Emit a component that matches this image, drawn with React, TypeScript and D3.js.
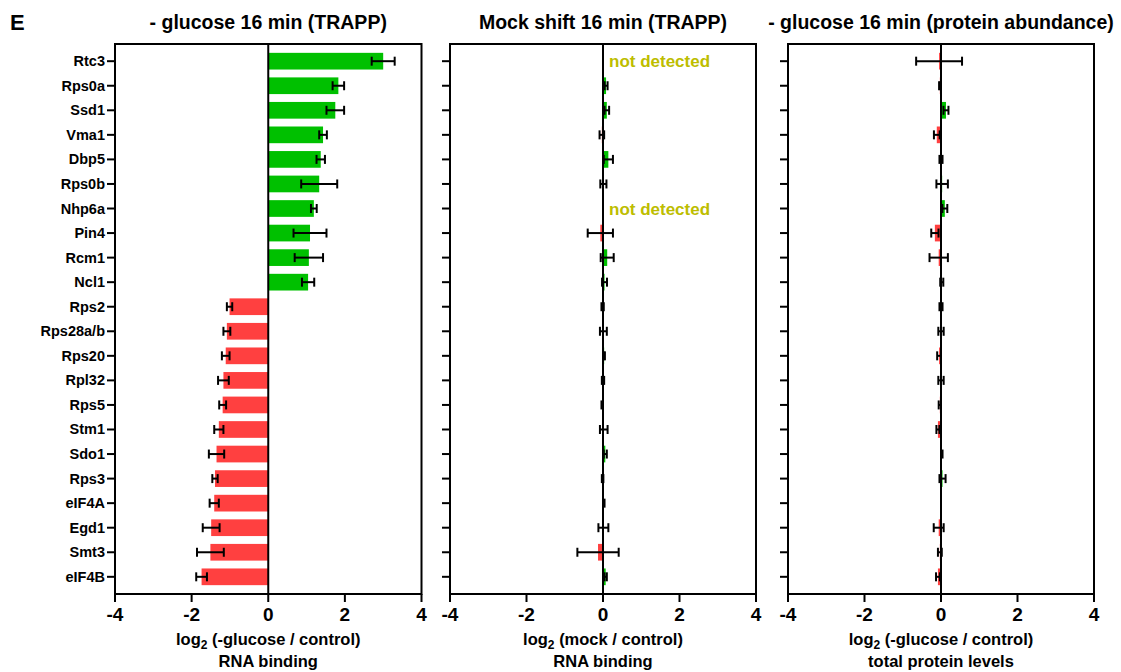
import * as d3 from 'd3';

// genes, top to bottom
const genes = ['Rtc3', 'Rps0a', 'Ssd1', 'Vma1', 'Dbp5', 'Rps0b', 'Nhp6a', 'Pin4', 'Rcm1', 'Ncl1', 'Rps2', 'Rps28a/b', 'Rps20', 'Rpl32', 'Rps5', 'Stm1', 'Sdo1', 'Rps3', 'eIF4A', 'Egd1', 'Smt3', 'eIF4B'];

// - glucose 16 min (TRAPP)
const glucoseTrapp = [3.0, 1.83, 1.75, 1.43, 1.37, 1.33, 1.19, 1.09, 1.06, 1.04, -1.01, -1.08, -1.11, -1.17, -1.19, -1.29, -1.35, -1.39, -1.41, -1.49, -1.51, -1.74];
const glucoseTrappErr = [0.3, 0.15, 0.23, 0.1, 0.11, 0.47, 0.075, 0.43, 0.37, 0.16, 0.07, 0.09, 0.1, 0.14, 0.09, 0.12, 0.2, 0.07, 0.12, 0.22, 0.35, 0.14];

// Mock shift 16 min (TRAPP), null = not detected
const mockTrapp = [null, 0.08, 0.1, -0.03, 0.14, 0.01, null, -0.07, 0.11, 0.04, -0.01, 0.01, 0.03, 0.0, -0.02, 0.02, 0.06, -0.01, 0.02, 0.01, -0.13, 0.07];
const mockTrappErr = [null, 0.04, 0.06, 0.06, 0.12, 0.08, null, 0.33, 0.17, 0.065, 0.03, 0.09, 0.02, 0.03, 0.02, 0.1, 0.04, 0.02, 0.02, 0.13, 0.54, 0.03];

// - glucose 16 min (protein abundance)
const protein = [-0.05, -0.03, 0.13, -0.11, 0.0, 0.03, 0.1, -0.16, -0.06, 0.02, 0.0, 0.0, -0.05, 0.0, -0.03, -0.08, 0.02, 0.04, 0.0, -0.06, -0.03, -0.08];
const proteinErr = [0.6, 0.02, 0.065, 0.075, 0.04, 0.15, 0.065, 0.095, 0.24, 0.04, 0.04, 0.07, 0.05, 0.07, 0.03, 0.04, 0.02, 0.08, 0.0, 0.13, 0.05, 0.05];

const xTicks = [-4, -2, 0, 2, 4];

const panels = [
  { title: '- glucose 16 min (TRAPP)', values: glucoseTrapp, errs: glucoseTrappErr, axis1: '(-glucose / control)', axis2: 'RNA binding', x0: 115, x1: 421.5, labels: true },
  { title: 'Mock shift 16 min (TRAPP)', values: mockTrapp, errs: mockTrappErr, axis1: '(mock / control)', axis2: 'RNA binding', x0: 450, x1: 756, labels: false },
  { title: '- glucose 16 min (protein abundance)', values: protein, errs: proteinErr, axis1: '(-glucose / control)', axis2: 'total protein levels', x0: 788, x1: 1094, labels: false },
];

const GREEN = '#00c000';
const RED = '#ff4040';
const FONT = '"Liberation Sans", Arial, sans-serif';

const top = 44;
const bottom = 594;

const y = d3.scalePoint<string>().domain(genes).range([top, bottom]).padding(0.7);
const barH = y.step() * 0.68;

function Panel({ p }: { p: typeof panels[number] }) {
  const x = d3.scaleLinear().domain([-4, 4]).range([p.x0, p.x1]);
  const cx = (p.x0 + p.x1) / 2;
  return (
    <g>
      <text x={cx} y={29} textAnchor="middle" fontSize={19.5} fontWeight="bold">{p.title}</text>
      {/* bars */}
      {genes.map((g, i) => {
        const v = p.values[i];
        if (v == null) return null;
        const yc = y(g)!;
        return (
          <rect key={g} x={Math.min(x(0), x(v))} y={yc - barH / 2} width={Math.abs(x(v) - x(0))} height={barH}
            fill={v >= 0 ? GREEN : RED} />
        );
      })}
      {/* error bars */}
      {genes.map((g, i) => {
        const v = p.values[i];
        const e = p.errs[i];
        if (v == null || e == null) return null;
        const yc = y(g)!;
        const a = x(v - e), b = x(v + e);
        return (
          <g key={g} stroke="black" strokeWidth={2}>
            <line x1={a} x2={b} y1={yc} y2={yc} />
            <line x1={a} x2={a} y1={yc - 4.5} y2={yc + 4.5} />
            <line x1={b} x2={b} y1={yc - 4.5} y2={yc + 4.5} />
          </g>
        );
      })}
      {genes.map((g, i) => p.values[i] == null ? (
        <text key={g} x={x(0) + 6} y={y(g)! + 6} fontSize={17} fontWeight="bold" fill="#bdbd00">not detected</text>
      ) : null)}
      {/* frame + zero line */}
      <rect x={p.x0} y={top} width={p.x1 - p.x0} height={bottom - top} fill="none" stroke="black" strokeWidth={2} />
      <line x1={x(0)} x2={x(0)} y1={top} y2={bottom} stroke="black" strokeWidth={2} />
      {/* y ticks */}
      {genes.map(g => (
        <g key={g}>
          <line x1={p.x0 - 8} x2={p.x0} y1={y(g)} y2={y(g)} stroke="black" strokeWidth={2} />
          {p.labels && (
            <text x={p.x0 - 10} y={y(g)! + 5} textAnchor="end" fontSize={14.5} fontWeight="bold">{g}</text>
          )}
        </g>
      ))}
      {/* x axis */}
      {xTicks.map(t => (
        <g key={t}>
          <line x1={x(t)} x2={x(t)} y1={bottom} y2={bottom + 8} stroke="black" strokeWidth={2} />
          <text x={x(t)} y={bottom + 27} textAnchor="middle" fontSize={19} fontWeight="bold">{t}</text>
        </g>
      ))}
      <text x={cx} y={645} textAnchor="middle" fontSize={16.5} fontWeight="bold">
        log<tspan fontSize={12} dy={4}>2</tspan><tspan dy={-4}> {p.axis1}</tspan>
      </text>
      <text x={cx} y={667} textAnchor="middle" fontSize={16.5} fontWeight="bold">{p.axis2}</text>
    </g>
  );
}

export default function App() {
  return (
    <div style={{ position: 'fixed', left: 0, top: 0 }}>
      <svg width={1121} height={672} style={{ display: 'block', background: 'white' }} fontFamily={FONT}>
        <text x={10} y={30} fontSize={22} fontWeight="bold">E</text>
        {panels.map(p => <Panel key={p.title} p={p} />)}
      </svg>
    </div>
  );
}
